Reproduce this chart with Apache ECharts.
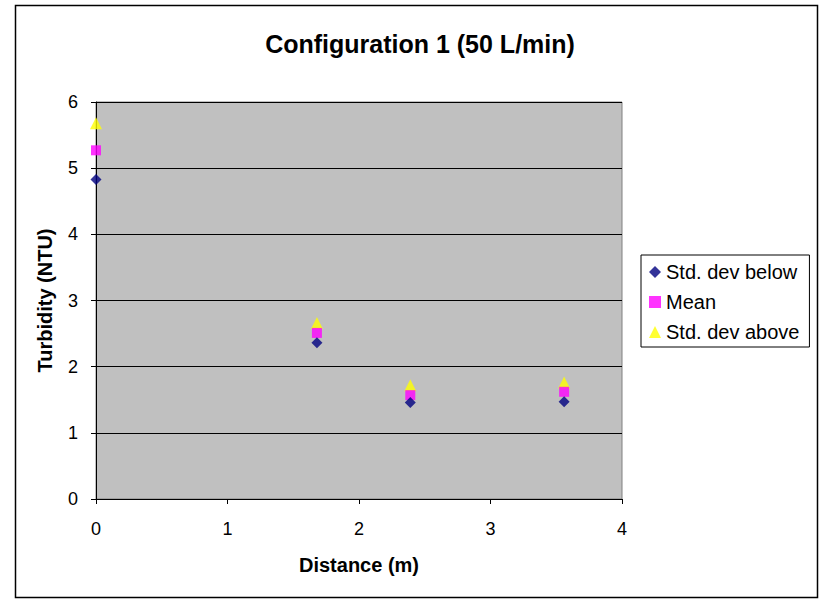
<!DOCTYPE html>
<html>
<head>
<meta charset="utf-8">
<script src="https://cdn.jsdelivr.net/npm/echarts@6/dist/echarts.min.js"></script>
<style>
    html, body { margin: 0; padding: 0; background: #fff; }
    #chart { width: 832px; height: 602px; }
</style>
</head>
<body>
<div id="chart"></div>
<script>
const distances = [ 0, 1.68, 2.39, 3.56 ];
const stdBelow = [ 4.83, 2.36, 1.46, 1.47 ];
const meanVals = [ 5.27, 2.51, 1.57, 1.62 ];
const stdAbove = [ 5.68, 2.66, 1.72, 1.76 ];
const seriesNames = [ 'Std. dev below', 'Mean', 'Std. dev above' ];

const pairs = ( ys ) => distances.map( ( x, i ) => [ x, ys[ i ] ] );

const font = 'Arial, "Liberation Sans", sans-serif';

const chart = echarts.init( document.getElementById( 'chart' ), null, { renderer: 'svg' } );

chart.setOption( {
    animation: false,
    title: {
        text: 'Configuration 1 (50 L/min)',
        left: 415,
        top: 26,
        textAlign: 'center',
        textStyle: { fontFamily: font, fontSize: 25, fontWeight: 'bold', color: '#000' },
    },
    graphic: [
        {
            type: 'rect',
            shape: { x: 15.5, y: 5.5, width: 802, height: 592 },
            style: { fill: 'none', stroke: '#000', lineWidth: 1.5 },
            z: 0,
        },
    ],
    grid: {
        left: 96,
        right: 210,
        top: 102,
        bottom: 103,
        show: true,
        backgroundColor: '#c0c0c0',
        borderColor: '#808080',
        borderWidth: 1,
    },
    legend: {
        orient: 'vertical',
        left: 641,
        top: 255,
        padding: [ 7, 10, 5, 8 ],
        itemGap: 10,
        itemWidth: 12,
        itemHeight: 12,
        borderColor: '#000',
        borderWidth: 1,
        textStyle: { fontFamily: font, fontSize: 20, color: '#000' },
        data: seriesNames,
    },
    xAxis: {
        type: 'value',
        min: 0,
        max: 4,
        interval: 1,
        name: 'Distance (m)',
        nameLocation: 'middle',
        nameGap: 56,
        nameTextStyle: { fontFamily: font, fontSize: 20, fontWeight: 'bold', color: '#000' },
        axisLine: { show: true, onZero: false, lineStyle: { color: '#000', width: 1 } },
        axisTick: { show: true, length: 5, lineStyle: { color: '#000' } },
        axisLabel: { fontFamily: font, fontSize: 18, color: '#000', margin: 21 },
        splitLine: { show: false },
    },
    yAxis: {
        type: 'value',
        min: 0,
        max: 6,
        interval: 1,
        name: 'Turbidity (NTU)',
        nameLocation: 'middle',
        nameGap: 41,
        nameTextStyle: { fontFamily: font, fontSize: 20, fontWeight: 'bold', color: '#000' },
        axisLine: { show: true, lineStyle: { color: '#000', width: 1 } },
        axisTick: { show: true, length: 5, lineStyle: { color: '#000' } },
        axisLabel: { fontFamily: font, fontSize: 18, color: '#000', margin: 18 },
        splitLine: { show: true, lineStyle: { color: '#000', width: 1 } },
    },
    series: [
        {
            name: seriesNames[ 0 ],
            type: 'scatter',
            symbol: 'diamond',
            symbolSize: 11,
            itemStyle: { color: '#000080' },
            data: pairs( stdBelow ),
            z: 3,
        },
        {
            name: seriesNames[ 1 ],
            type: 'scatter',
            symbol: 'rect',
            symbolSize: 10,
            itemStyle: { color: '#ff00ff' },
            data: pairs( meanVals ),
            z: 2,
        },
        {
            name: seriesNames[ 2 ],
            type: 'scatter',
            symbol: 'triangle',
            symbolSize: 12,
            itemStyle: { color: '#ffff00' },
            data: pairs( stdAbove ),
            z: 1,
        },
    ],
} );
</script>
</body>
</html>
